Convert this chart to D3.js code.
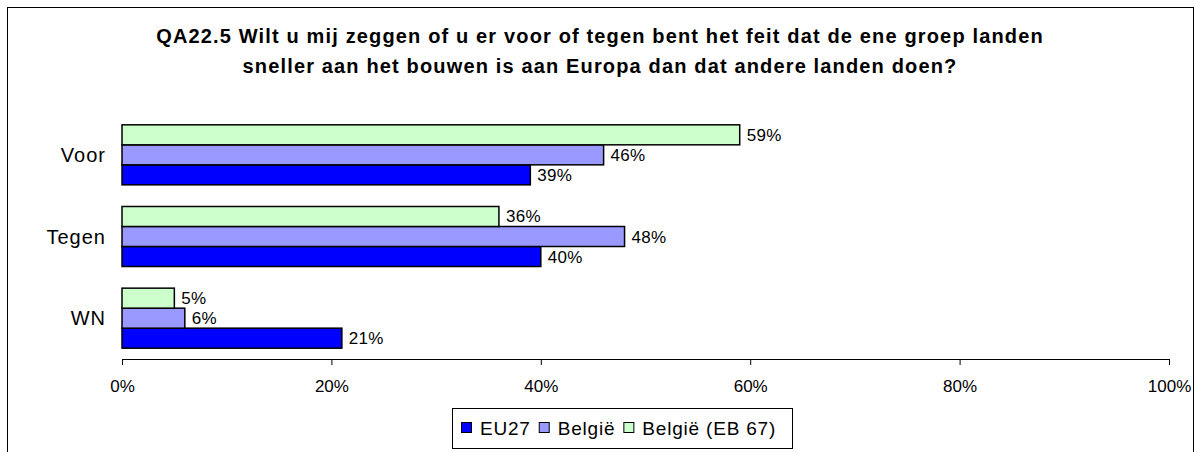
<!DOCTYPE html>
<html>
<head>
<meta charset="utf-8">
<script src="https://cdn.jsdelivr.net/npm/d3@7"></script>
<style>
  html, body { margin: 0; padding: 0; background: #fff; }
  svg { display: block; }
  text { font-family: Arial, "Liberation Sans", sans-serif; fill: #000; }
</style>
</head>
<body>
<svg id="chart" width="1195" height="452"></svg>
<script>
const titleLines = [
  "QA22.5 Wilt u mij zeggen of u er voor of tegen bent het feit dat de ene groep landen",
  "sneller aan het bouwen is aan Europa dan dat andere landen doen?"
];
const categories = ["Voor", "Tegen", "WN"];
const seriesNames = ["EU27", "België", "België (EB 67)"];
const eu27 = [39, 40, 21];
const belgie = [46, 48, 6];
const belgieEB67 = [59, 36, 5];
const xTicks = [0, 20, 40, 60, 80, 100];
const colors = ["#0000FF", "#9999FF", "#CCFFCC"];

const seriesValues = [eu27, belgie, belgieEB67];
const svg = d3.select("#chart");

// outer frame
svg.append("rect")
  .attr("x", 7.5).attr("y", 7.5)
  .attr("width", 1186).attr("height", 470)
  .attr("fill", "none").attr("stroke", "#000").attr("stroke-width", 1);

// title
svg.append("g").selectAll("text").data(titleLines).join("text")
  .attr("x", 600).attr("y", (d, i) => 43 + i * 29.5)
  .attr("text-anchor", "middle")
  .attr("font-weight", "bold").attr("font-size", 20)
  .attr("letter-spacing", 1.15)
  .text(d => d);

const x = d3.scaleLinear().domain([0, 100]).range([122, 1169]);
const y = d3.scaleBand().domain(categories).range([114, 359])
  .paddingInner(0.265).paddingOuter(0.1325);
// order inside group top to bottom: EB67, België, EU27
const inner = d3.scaleBand().domain([2, 1, 0]).range([0, y.bandwidth()]);

// bars
const rows = [];
categories.forEach((c, ci) => {
  seriesValues.forEach((vals, si) => rows.push({ c, si, v: vals[ci] }));
});

const g = svg.append("g");
g.selectAll("rect").data(rows).join("rect")
  .attr("x", x(0))
  .attr("y", d => y(d.c) + inner(d.si))
  .attr("width", d => x(d.v) - x(0))
  .attr("height", inner.bandwidth())
  .attr("fill", d => colors[d.si])
  .attr("stroke", "#000").attr("stroke-width", 1.5);

g.selectAll("text.val").data(rows).join("text")
  .attr("class", "val")
  .attr("x", d => x(d.v) + 7)
  .attr("y", d => y(d.c) + inner(d.si) + inner.bandwidth() / 2 + 6)
  .attr("font-size", 17).attr("letter-spacing", 0.3)
  .text(d => d.v + "%");

// category labels
svg.append("g").selectAll("text").data(categories).join("text")
  .attr("x", 106)
  .attr("y", d => y(d) + y.bandwidth() / 2 + 7)
  .attr("text-anchor", "end").attr("font-size", 20)
  .attr("letter-spacing", 1)
  .text(d => d);

// x axis
const axis = d3.axisBottom(x).tickValues(xTicks).tickFormat(d => d + "%").tickSize(6).tickSizeOuter(0);
const ax = svg.append("g").attr("transform", "translate(0,359)").call(axis);
ax.select(".domain").attr("stroke", "#000");
ax.selectAll(".tick line").attr("stroke", "#000");
ax.selectAll(".tick text")
  .attr("font-family", 'Arial, "Liberation Sans", sans-serif')
  .attr("font-size", 17).attr("fill", "#000")
  .attr("y", 0).attr("dy", 0)
  .attr("transform", "translate(0,33)");

// legend
const lg = svg.append("g");
lg.append("rect")
  .attr("x", 452.5).attr("y", 408.5).attr("width", 340).attr("height", 40)
  .attr("fill", "#fff").attr("stroke", "#000").attr("stroke-width", 1);
let lx = 461;
seriesNames.forEach((name, i) => {
  lg.append("rect")
    .attr("x", lx + 0.5).attr("y", 422.5).attr("width", 10).attr("height", 10)
    .attr("fill", colors[i]).attr("stroke", "#000").attr("stroke-width", 1);
  const t = lg.append("text")
    .attr("x", lx + 19).attr("y", 435)
    .attr("font-size", 19).attr("letter-spacing", 0.8).text(name);
  lx = lx + 19 + t.node().getComputedTextLength() + 8;
});
</script>
</body>
</html>
